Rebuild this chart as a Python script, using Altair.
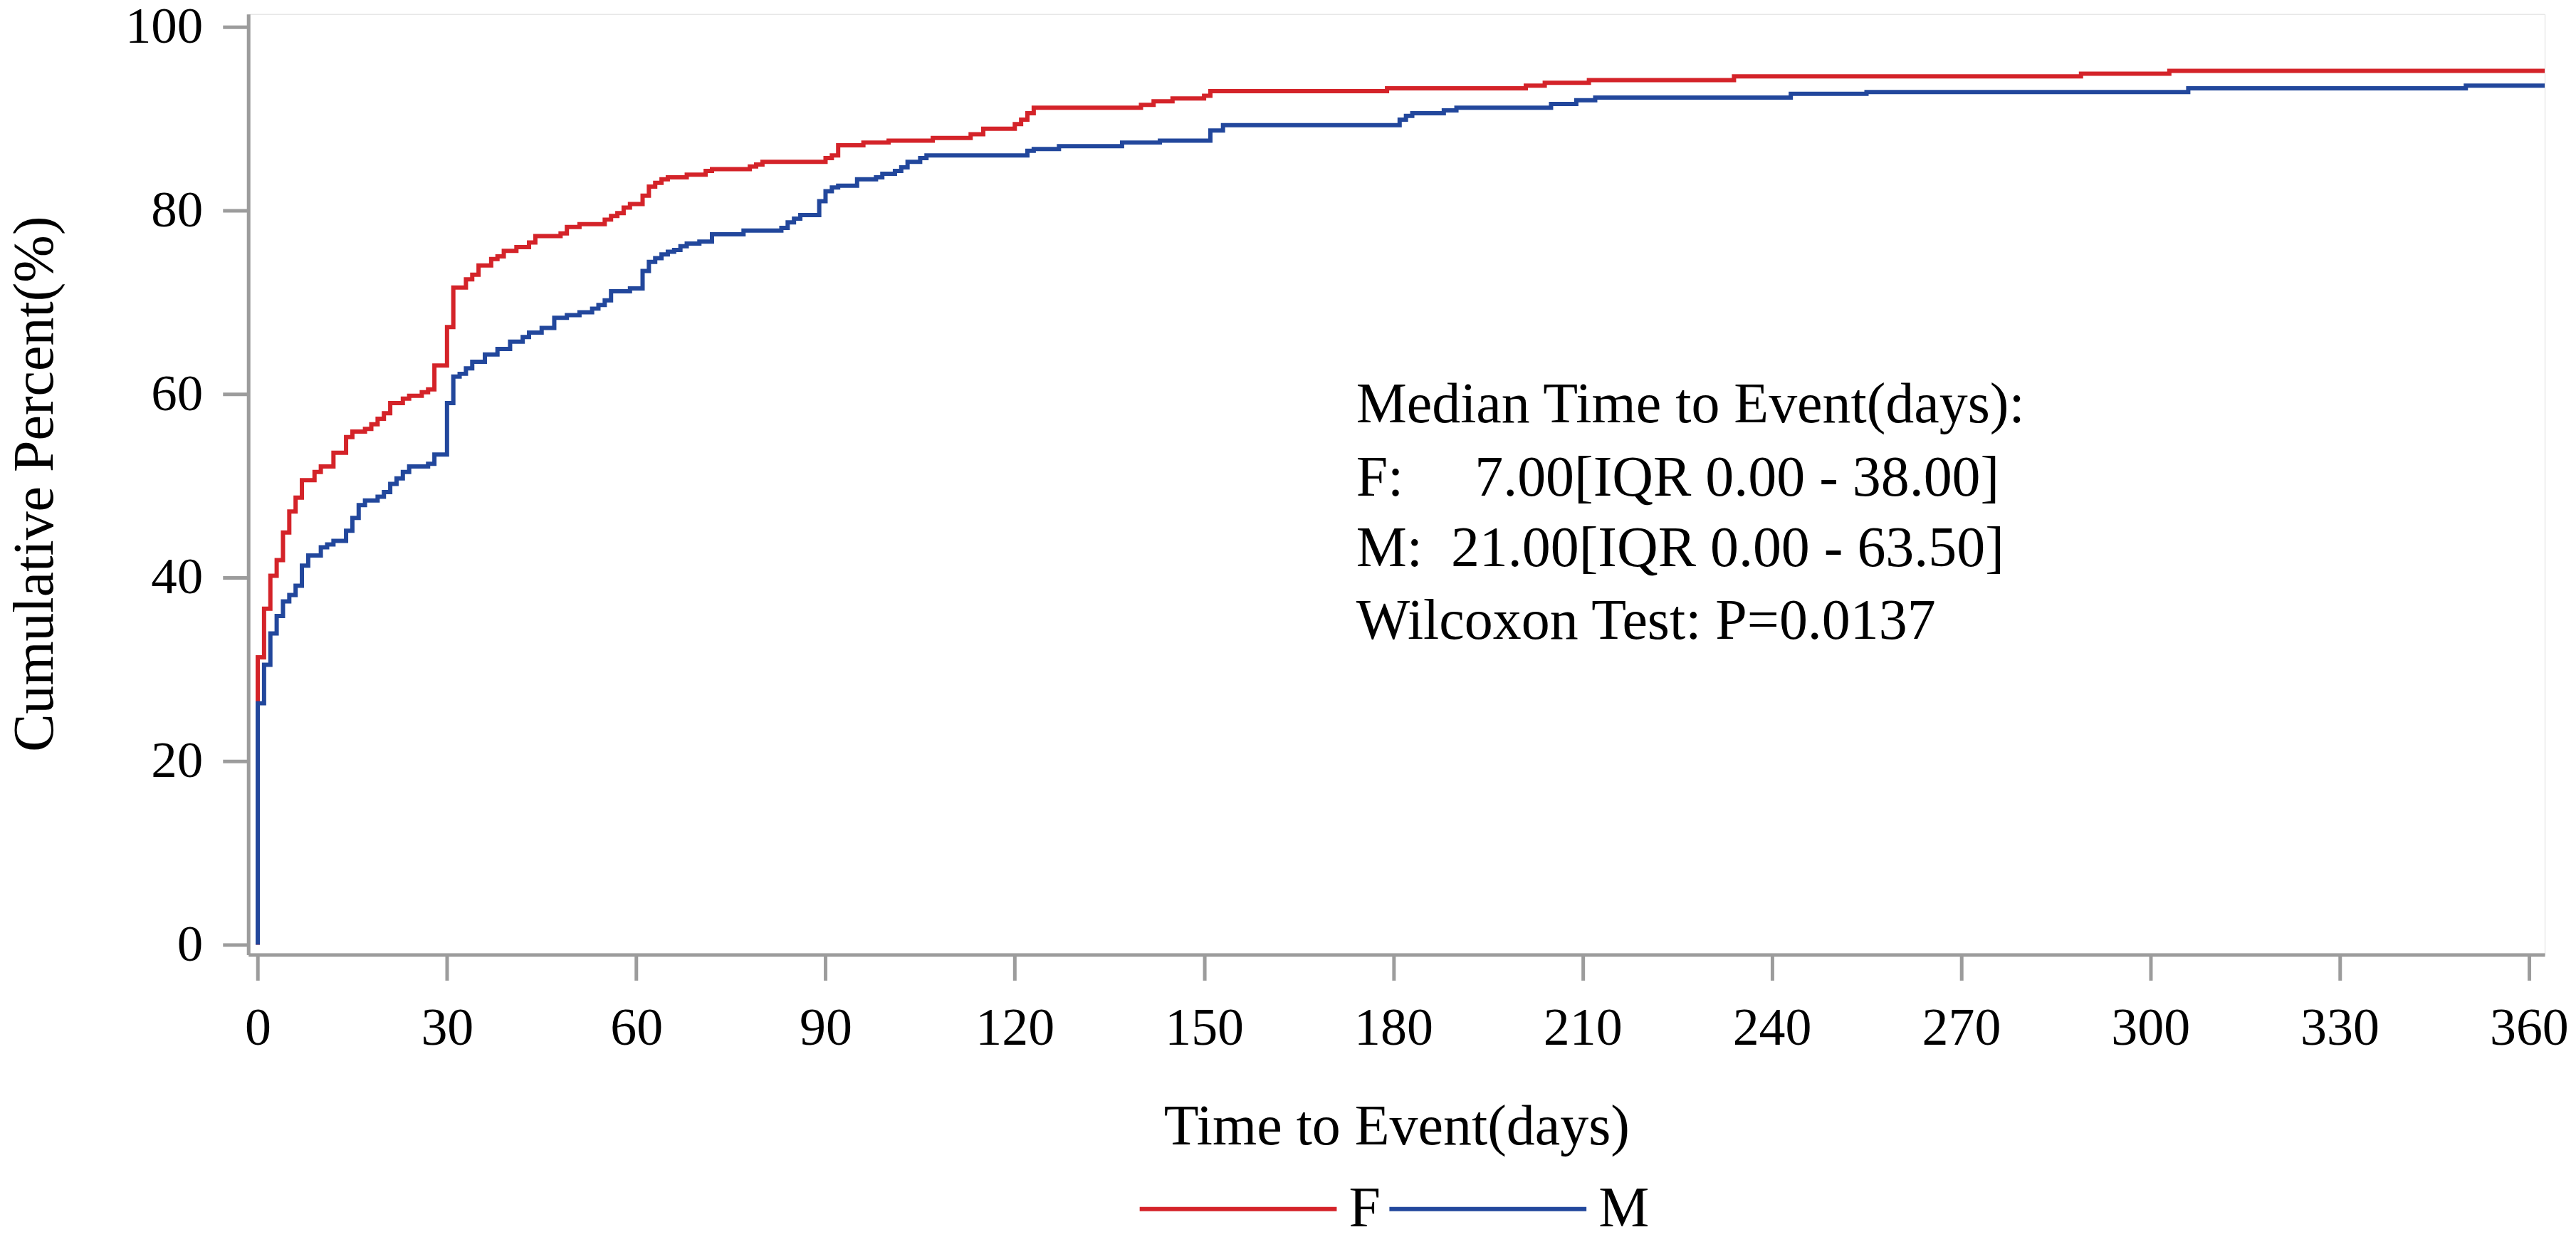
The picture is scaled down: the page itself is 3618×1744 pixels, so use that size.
import altair as alt
import pandas as pd

# ---- data ----
f_days = [0, 1, 2, 3, 4, 5, 6, 7, 9, 10, 12, 14, 15, 17, 18, 19, 20, 21, 23, 24, 26, 27, 28,
          30, 31, 33, 34, 35, 37, 38, 39, 41, 43, 44, 48, 49, 51, 55, 56, 57, 58, 59, 61,
          62, 63, 64, 65, 68, 71, 72, 78, 79, 80, 90, 91, 92, 96, 100, 107, 113, 115, 120,
          121, 122, 123, 140, 142, 145, 150, 151, 179, 201, 204, 211, 234, 289, 303]
f_pct = [31.3, 36.6, 40.2, 41.9, 44.9, 47.2, 48.7, 50.6, 51.5, 52.1, 53.6, 55.3, 55.9, 56.2,
         56.7, 57.3, 57.9, 59.0, 59.5, 59.8, 60.2, 60.5, 63.1, 67.3, 71.6, 72.5, 73.0, 74.0,
         74.7, 75.0, 75.6, 76.0, 76.5, 77.2, 77.5, 78.2, 78.5, 79.0, 79.4, 79.7, 80.3, 80.7,
         81.6, 82.6, 83.0, 83.4, 83.6, 83.9, 84.3, 84.5, 84.8, 85.0, 85.3, 85.7, 86.0, 87.1,
         87.4, 87.6, 87.9, 88.3, 88.9, 89.4, 89.9, 90.6, 91.2, 91.5, 91.9, 92.2, 92.5, 93.0,
         93.3, 93.6, 93.9, 94.2, 94.6, 94.9, 95.2]

m_days = [0, 1, 2, 3, 4, 5, 6, 7, 8, 10, 11, 12, 14, 15, 16, 17, 19, 20, 21, 22, 23, 24, 27,
          28, 30, 31, 32, 33, 34, 36, 38, 40, 42, 43, 45, 47, 49, 51, 53, 54, 55, 56, 59, 61,
          62, 63, 64, 65, 66, 67, 68, 70, 72, 77, 83, 84, 85, 86, 89, 90, 91, 92, 95, 98, 99,
          101, 102, 103, 105, 106, 122, 123, 127, 137, 143, 151, 153, 181, 182, 183, 188, 190,
          205, 209, 212, 243, 255, 306, 350]
m_pct = [26.3, 30.5, 33.9, 35.8, 37.4, 38.1, 39.1, 41.3, 42.4, 43.3, 43.6, 44.0, 45.1, 46.5,
         47.9, 48.4, 48.8, 49.3, 50.2, 50.8, 51.5, 52.1, 52.4, 53.4, 59.0, 61.9, 62.2, 62.8,
         63.5, 64.3, 64.9, 65.7, 66.2, 66.7, 67.2, 68.3, 68.6, 68.9, 69.3, 69.7, 70.2, 71.2,
         71.5, 73.4, 74.4, 74.8, 75.2, 75.5, 75.7, 76.1, 76.4, 76.6, 77.4, 77.8, 78.1, 78.7,
         79.1, 79.5, 81.0, 82.1, 82.5, 82.7, 83.4, 83.6, 84.0, 84.3, 84.7, 85.3, 85.7, 86.0,
         86.5, 86.7, 87.0, 87.4, 87.6, 88.7, 89.3, 89.9, 90.3, 90.6, 90.9, 91.2, 91.6, 92.0,
         92.3, 92.7, 92.9, 93.3, 93.6]

groups = ["F", "M"]
group_colors = ["#d42329", "#22479c"]
end_day = 362.5

x_ticks = [0, 30, 60, 90, 120, 150, 180, 210, 240, 270, 300, 330, 360]
y_ticks = [0, 20, 40, 60, 80, 100]

NB = "\u00a0"
ann_lines = [
    "Median Time to Event(days):",
    "F:" + NB * 5 + "7.00[IQR 0.00 - 38.00]",
    "M:" + NB * 2 + "21.00[IQR 0.00 - 63.50]",
    "Wilcoxon Test: P=0.0137",
]
ann_x = 174.1
ann_y = [58.8, 50.8, 43.1, 35.2]

# ---- build tables ----
rows = []
idx = 0
for g, days, pcts in [("F", f_days, f_pct), ("M", m_days, m_pct)]:
    pts = [(0, 0.0)] + list(zip(days, pcts)) + [(end_day, pcts[-1])]
    for d, p in pts:
        rows.append({"day": d, "pct": p, "group": g, "idx": idx})
        idx += 1
df = pd.DataFrame(rows)
ann_df = pd.DataFrame({"day": [ann_x] * len(ann_lines), "pct": ann_y, "label": ann_lines})

FONT = "Liberation Serif"
GRAY = "#9c9c9c"

x_enc = alt.X(
    "day:Q",
    scale=alt.Scale(domain=[-1.5, end_day], nice=False, zero=False),
    axis=alt.Axis(
        values=x_ticks, title="Time to Event(days)", grid=False,
        labelFontSize=74, titleFontSize=80, labelFont=FONT, titleFont=FONT,
        labelColor="black", titleColor="black", titleFontWeight="normal",
        tickSize=36, tickWidth=5, tickColor=GRAY, domainColor=GRAY, domainWidth=5,
        labelPadding=32, titleY=242, titleBaseline="middle", labelFlush=False,
    ),
)
y_enc = alt.Y(
    "pct:Q",
    scale=alt.Scale(domain=[-1.1, 101.4], nice=False, zero=False),
    axis=alt.Axis(
        values=y_ticks, title="Cumulative Percent(%)", grid=False,
        labelFontSize=73, titleFontSize=80, labelFont=FONT, titleFont=FONT,
        labelColor="black", titleColor="black", titleFontWeight="normal",
        tickSize=36, tickWidth=5, tickColor=GRAY, domainColor=GRAY, domainWidth=5,
        labelPadding=28, titleX=-299, titleY=660, titleAngle=270,
        titleAlign="center", titleBaseline="middle", labelFlush=False,
    ),
)

lines = alt.Chart(df).mark_line(interpolate="step-after", strokeWidth=6, clip=True).encode(
    x=x_enc,
    y=y_enc,
    color=alt.Color(
        "group:N",
        scale=alt.Scale(domain=groups, range=group_colors),
        legend=alt.Legend(
            title=None, orient="none", legendX=1250, legendY=1538, direction="horizontal",
            symbolType="stroke", symbolSize=76729, symbolStrokeWidth=6,
            labelFont=FONT, labelFontSize=80, labelColor="black", labelBaseline="middle",
            labelOffset=14, columnPadding=0, padding=0, gridAlign="none",
        ),
    ),
    order=alt.Order("idx:Q"),
)

text = alt.Chart(ann_df).mark_text(
    align="left", baseline="middle", font=FONT, fontSize=80, color="black"
).encode(x="day:Q", y="pct:Q", text="label:N")

chart = alt.layer(lines, text).properties(
    width=3228, height=1322,
    padding={"left": 341, "top": 11, "right": 36, "bottom": 394},
    autosize=alt.AutoSizeParams(type="none"),
).configure_view(stroke=GRAY, strokeWidth=5).configure(background="white")

chart.save("out.html", embed_options={"renderer": "svg", "actions": False})
